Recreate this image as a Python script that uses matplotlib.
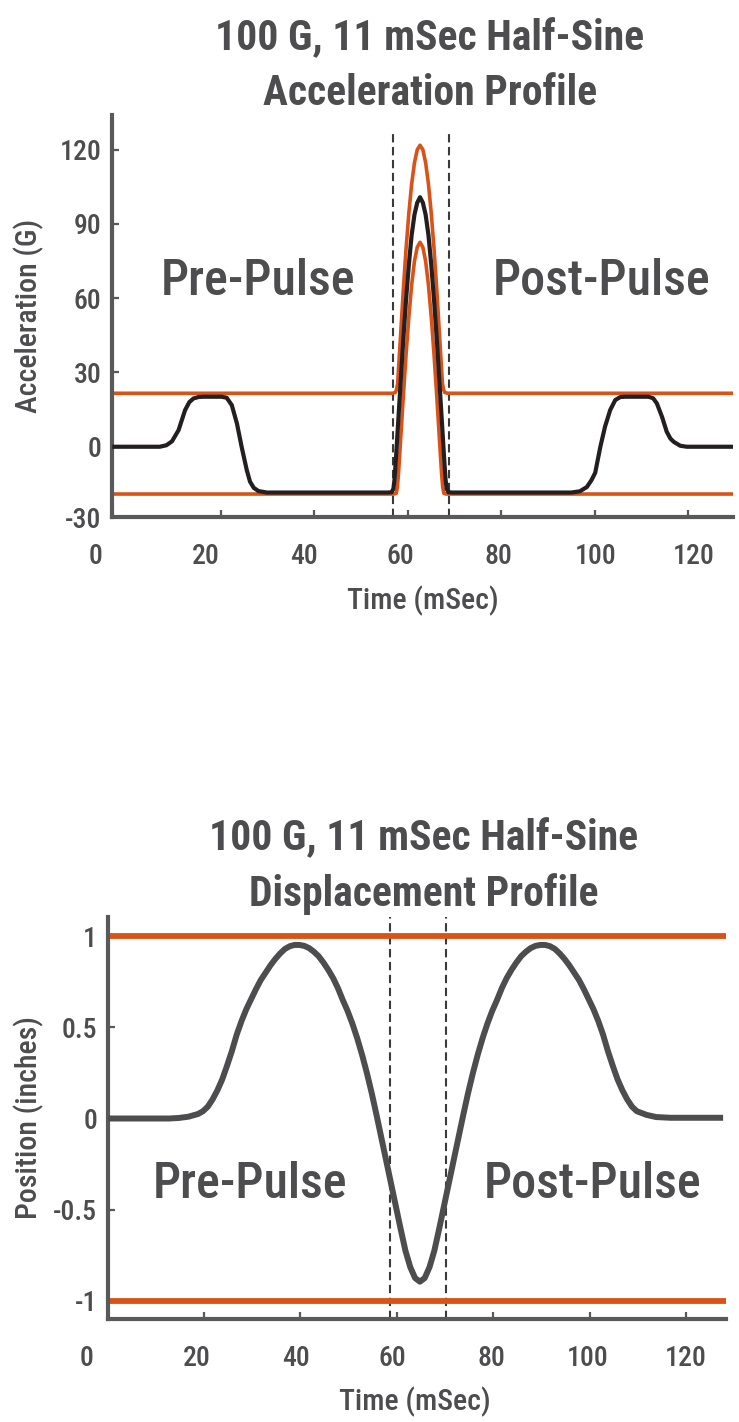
import numpy as np
import matplotlib.pyplot as plt
from matplotlib.transforms import ScaledTranslation, blended_transform_factory

# ---- data ----
acc_t = [-3.3, 6.9, 8.3, 9.5, 10.9, 12.3, 13.2, 14.1, 15.2, 16.2, 20.1, 21.2, 22.3, 23.4,
         24.4, 25.5, 26.2, 27.0, 28.0, 29.8,
         55.6, 56.5, 56.9, 57.15, 57.4, 57.8, 58.4, 59.0, 59.6, 60.2, 60.8, 61.4, 62.0,
         62.6, 63.2, 63.8, 64.4, 65.0, 65.6, 66.2, 66.8, 67.4, 67.8, 68.05, 68.3, 68.7, 69.6,
         95.0, 96.8, 98.3, 99.3, 100.1, 101.2, 102.2, 103.3, 104.4, 105.5, 106.5, 111.5,
         112.5, 113.3, 114.4, 115.4, 116.2, 116.9, 118.3, 119.7, 129.6]
acc_g = [0.0, 0.0, 0.6, 2.2, 6.7, 14.8, 18.0, 19.5, 20.1, 20.2, 20.2, 19.8, 16.8, 9.4,
         0.0, -9.4, -14.1, -16.6, -17.9, -18.5,
         -18.5, -18.4, -17.0, -13.0, -6.0, 6.3, 24.6, 43.0, 59.3, 73.5, 85.5, 93.7, 98.6,
         100.8, 98.6, 93.7, 85.5, 73.5, 59.3, 43.0, 24.6, 6.3, -6.0, -13.0, -17.0, -18.4, -18.5,
         -18.5, -18.0, -16.3, -13.5, -10.5, 0.0, 8.1, 14.8, 18.9, 20.1, 20.2, 20.2,
         19.6, 17.5, 12.1, 6.1, 3.3, 2.0, 0.4, 0.0, 0.0]

upper_t = [-3.3, 56.7, 57.3, 57.55, 57.8, 58.4, 59.0, 59.6, 60.2, 60.8, 61.4, 62.0, 62.6,
           63.2, 63.8, 64.4, 65.0, 65.6, 66.2, 66.8, 67.4, 67.65, 67.9, 68.5, 129.6]
upper_g = [21.6, 21.6, 21.9, 23.0, 25.5, 44.0, 62.9, 79.8, 94.3, 106.1, 114.7, 120.0, 121.8,
           120.0, 114.7, 106.1, 94.3, 79.8, 62.9, 44.0, 25.5, 23.0, 21.9, 21.6, 21.6]

lower_t = [-3.3, 57.0, 57.5, 57.75, 58.0, 58.4, 59.0, 59.6, 60.2, 60.8, 61.4, 62.0, 62.6,
           63.2, 63.8, 64.4, 65.0, 65.6, 66.2, 66.8, 67.2, 67.45, 67.7, 68.2, 129.6]
lower_g = [-19.1, -19.1, -18.8, -16.3, -10.5, 1.5, 19.8, 37.0, 52.4, 65.3, 74.9, 80.6, 82.6,
           80.6, 74.9, 65.3, 52.4, 37.0, 19.8, 1.5, -10.5, -16.3, -18.8, -19.1, -19.1]

acc_window = [56.8, 68.8]

disp_t = [0.0, 12.8, 14.8, 16.8, 18.8, 19.8, 20.8, 21.8, 22.8, 23.8, 24.8, 25.8, 26.8, 27.8,
          28.8, 29.8, 30.8, 31.8, 32.8, 33.8, 34.8, 35.8, 36.8, 37.8, 38.8, 39.8, 40.8, 41.8,
          42.8, 43.8, 44.8, 45.8, 46.8, 47.8, 48.8, 49.8, 50.8, 51.8, 52.8, 53.8, 54.8, 55.8,
          56.8, 57.8, 58.8, 59.8, 60.8, 61.8, 62.8, 63.8, 64.8,
          65.8, 66.8, 67.8, 68.8, 69.8, 70.8, 71.8, 72.8, 73.8, 74.8, 75.8, 76.8, 77.8, 78.8,
          79.8, 80.8, 81.8, 82.8, 83.8, 84.8, 85.8, 86.8, 87.8, 88.8, 89.8, 90.8, 91.8, 92.8,
          93.8, 94.8, 95.8, 96.8, 97.8, 98.8, 99.8, 100.8, 101.8, 102.8, 103.8, 104.8, 105.8,
          106.8, 107.8, 108.8, 109.8, 111.8, 113.8, 116.8, 127.7]
disp_in = [0.0, 0.0, 0.003, 0.01, 0.025, 0.04, 0.065, 0.105, 0.155, 0.215, 0.29, 0.37, 0.46,
           0.535, 0.60, 0.655, 0.71, 0.76, 0.80, 0.84, 0.875, 0.905, 0.93, 0.945, 0.952, 0.952,
           0.947, 0.935, 0.915, 0.89, 0.855, 0.815, 0.77, 0.715, 0.65, 0.59, 0.52, 0.44, 0.35,
           0.25, 0.14, 0.02, -0.105, -0.23, -0.355, -0.48, -0.605, -0.725, -0.815, -0.875, -0.895,
           -0.875, -0.815, -0.725, -0.605, -0.48, -0.355, -0.23, -0.105, 0.02, 0.14, 0.25, 0.35,
           0.44, 0.52, 0.59, 0.65, 0.715, 0.77, 0.815, 0.855, 0.89, 0.915, 0.935, 0.947, 0.952,
           0.952, 0.945, 0.93, 0.905, 0.875, 0.84, 0.80, 0.76, 0.71, 0.655, 0.60, 0.535, 0.46,
           0.37, 0.29, 0.215, 0.155, 0.105, 0.065, 0.04, 0.02, 0.008, 0.004, 0.004]
disp_limits = [1.0, -1.0]
disp_window = [58.7, 70.2]

xticks = [0, 20, 40, 60, 80, 100, 120]
acc_yticks = [0, 30, 60, 90, 120]
disp_yticks = [-1, -0.5, 0, 0.5, 1]
disp_yticklabels = ['-1', '-0.5', '0', '0.5', '1']

# label nudges (px) so the tick numbers sit where the reference has them
acc_xlabel_shift = [-32, -15, -10, -7.5, -2.5, 0.5, 6]
disp_xlabel_shift = [-21, -7, -4, -4, -2, -2, -0.5]

ORANGE = '#D95319'
BLACK = '#231F20'
GRAY = '#4D4D4F'
AXGRAY = '#58595B'

plt.rcParams['font.family'] = ['Roboto Condensed', 'DejaVu Sans']
plt.rcParams['font.weight'] = 500
plt.rcParams['axes.labelweight'] = 500
plt.rcParams['axes.unicode_minus'] = False

fig = plt.figure(figsize=(7.39, 14.22), dpi=100)
ax1 = fig.add_axes([0.1516, 0.6364, 0.8403, 0.2827])
ax2 = fig.add_axes([0.1455, 0.0724, 0.8369, 0.2827])


def style(ax):
    for s in ['top', 'right']:
        ax.spines[s].set_visible(False)
    for s in ['left', 'bottom']:
        ax.spines[s].set_linewidth(3)
        ax.spines[s].set_color(AXGRAY)
    ax.tick_params(direction='in', length=5, width=1.6, color=AXGRAY,
                   labelsize=20, labelcolor=GRAY)
    ax.tick_params(axis='x', pad=19)
    ax.tick_params(axis='y', pad=7.5)


def shift_xlabels(ax, shifts):
    for tick, dx in zip(ax.xaxis.get_major_ticks(), shifts):
        tick.label1.set_transform(tick.label1.get_transform()
                                  + ScaledTranslation(dx / 100, 0, fig.dpi_scale_trans))


# ---- acceleration ----
ax1.vlines(acc_window, -28.4, 127.1, colors='#3a3a3a', linestyles=(0, (4, 2.2)),
           linewidth=1.5, zorder=1)
ax1.plot(upper_t, upper_g, color=ORANGE, lw=2.6, zorder=2, solid_capstyle='butt')
ax1.plot(lower_t, lower_g, color=ORANGE, lw=2.6, zorder=2, solid_capstyle='butt')
ax1.plot(acc_t, acc_g, color=BLACK, lw=3, zorder=3, solid_capstyle='butt')
ax1.set_xlim(-3.34, 129.6)
ax1.set_ylim(-28.4, 134)
style(ax1)
ax1.set_xticks(xticks)
ax1.set_yticks(acc_yticks)
ax1.xaxis.get_major_ticks()[0].tick1line.set_visible(False)
ax1.text(-0.0166, -30, '-30', transform=blended_transform_factory(ax1.transAxes, ax1.transData),
         ha='right', va='center', fontsize=20, color=GRAY, clip_on=False)
ax1.set_xlabel('Time (mSec)', fontsize=21.5, color=GRAY, va='top')
ax1.xaxis.set_label_coords(0.5, -0.171)
ax1.set_ylabel('Acceleration (G)', fontsize=21.5, color=GRAY)
ax1.yaxis.set_label_coords(-0.1095, 0.5)
ax1.text(27.9, 61.2, 'Pre-Pulse', fontsize=36, color=GRAY, ha='center', va='baseline')
ax1.text(101.4, 61.2, 'Post-Pulse', fontsize=36, color=GRAY, ha='center', va='baseline')
shift_xlabels(ax1, acc_xlabel_shift)

# ---- displacement ----
for x in disp_window:
    ax2.axvline(x, color='#3a3a3a', linestyle=(0, (4, 2.2)), linewidth=1.5, zorder=1)
for y in disp_limits:
    ax2.axhline(y, color=ORANGE, lw=4.2, zorder=2)
ax2.plot(disp_t, disp_in, color=GRAY, lw=4.3, zorder=3, solid_capstyle='butt')
ax2.set_xlim(0, 128.3)
ax2.set_ylim(-1.1, 1.105)
style(ax2)
ax2.set_xticks(xticks)
ax2.set_yticks(disp_yticks)
ax2.set_yticklabels(disp_yticklabels)
ax2.set_xlabel('Time (mSec)', fontsize=21.5, color=GRAY, va='top')
ax2.xaxis.set_label_coords(0.497, -0.167)
ax2.set_ylabel('Position (inches)', fontsize=21.5, color=GRAY)
ax2.yaxis.set_label_coords(-0.1027, 0.5)
ax2.text(29.5, -0.436, 'Pre-Pulse', fontsize=36, color=GRAY, ha='center', va='baseline')
ax2.text(100.6, -0.436, 'Post-Pulse', fontsize=36, color=GRAY, ha='center', va='baseline')
shift_xlabels(ax2, disp_xlabel_shift)

# ---- titles ----
for x, y, s in [(0.5819, 0.9648, '100 G, 11 mSec Half-Sine'),
                (0.5819, 0.9262, 'Acceleration Profile'),
                (0.5737, 0.4023, '100 G, 11 mSec Half-Sine'),
                (0.5737, 0.3629, 'Displacement Profile')]:
    fig.text(x, y, s, fontsize=30, fontweight=600, color=GRAY, ha='center', va='baseline')

fig.savefig('out.png', dpi=100)
